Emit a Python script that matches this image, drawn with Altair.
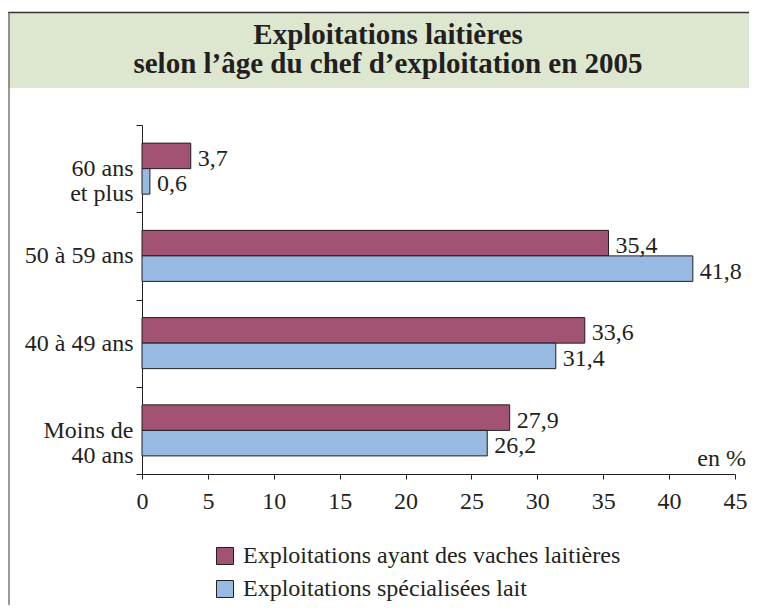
import altair as alt
import pandas as pd

# ---- data ----
categories = ["60 ans\net plus", "50 à 59 ans", "40 à 49 ans", "Moins de\n40 ans"]
series = ["Exploitations ayant des vaches laitières", "Exploitations spécialisées lait"]
vaches = [3.7, 35.4, 33.6, 27.9]
specialisees = [0.6, 41.8, 31.4, 26.2]
x_ticks = [0, 5, 10, 15, 20, 25, 30, 35, 40, 45]
colors = ["#A25374", "#98B9E2"]
title_lines = ["Exploitations laitières", "selon l\u2019âge du chef d\u2019exploitation en 2005"]
unit_label = "en %"

rows = []
for c, a, b in zip(categories, vaches, specialisees):
    rows.append({"age": c, "serie": series[0], "valeur": a})
    rows.append({"age": c, "serie": series[1], "valeur": b})
df = pd.DataFrame(rows)
one = pd.DataFrame({"k": [0]})

FONT = "'Liberation Serif', 'Times New Roman', Times, serif"
INK = "#231f20"

y_enc = alt.Y(
    "age:N",
    sort=categories,
    scale=alt.Scale(paddingInner=0, paddingOuter=0),
    axis=alt.Axis(
        title=None,
        tickBand="extent",
        labelExpr="datum.value ? split(datum.value, '\\n') : ''",
        tickSize=6,
        labelPadding=3,
        labelLineHeight=25,
        labelFont=FONT,
        labelFontSize=24,
        labelColor=INK,
        domainColor=INK,
        tickColor=INK,
        labelLimit=0,
    ),
)
yoff_enc = alt.YOffset(
    "serie:N", sort=series, scale=alt.Scale(paddingInner=0, paddingOuter=0.71)
)
x_enc = alt.X(
    "valeur:Q",
    scale=alt.Scale(domain=[0, 45], nice=False, zero=True),
    axis=alt.Axis(
        title=None,
        values=x_ticks,
        grid=False,
        tickSize=5,
        labelPadding=10,
        labelFont=FONT,
        labelFontSize=24,
        labelColor=INK,
        domainColor=INK,
        tickColor=INK,
        labelFlush=False,
    ),
)

base = alt.Chart(df).transform_calculate(
    label="replace(format(datum.valeur, '.1f'), '.', ',')"
)

bars = base.mark_bar(stroke=INK, strokeWidth=1).encode(
    y=y_enc,
    yOffset=yoff_enc,
    x=x_enc,
    color=alt.Color(
        "serie:N",
        sort=series,
        scale=alt.Scale(domain=series, range=colors),
        legend=alt.Legend(
            orient="none",
            legendX=71,
            legendY=419,
            title=None,
            symbolType="square",
            symbolSize=289,
            symbolStrokeColor=INK,
            symbolStrokeWidth=1,
            symbolOpacity=1,
            labelFont=FONT,
            labelFontSize=24,
            labelColor=INK,
            labelOffset=6,
            rowPadding=9,
            padding=0,
            labelLimit=0,
        ),
    ),
)

values_txt = base.mark_text(
    align="left", baseline="middle", dx=7, dy=3, font=FONT, fontSize=24, color=INK
).encode(y=y_enc, yOffset=yoff_enc, x=alt.X("valeur:Q"), text="label:N")

# ---- decorations ----
band = alt.Chart(one).mark_rect(color="#dde7cf").encode(
    x=alt.value(-134), x2=alt.value(620), y=alt.value(-112), y2=alt.value(-37)
)
top_line = alt.Chart(one).mark_rule(color="#333333", strokeWidth=1.5).encode(
    x=alt.value(-134), x2=alt.value(620), y=alt.value(-112.5)
)
left_line = alt.Chart(one).mark_rule(color="#777777", strokeWidth=1.5).encode(
    x=alt.value(-133), y=alt.value(-112.5), y2=alt.value(480)
)
t1 = alt.Chart(one).mark_text(
    text=title_lines[0], font=FONT, fontSize=29, fontWeight="bold", color=INK,
    align="center", baseline="alphabetic"
).encode(x=alt.value(246), y=alt.value(-81))
t2 = alt.Chart(one).mark_text(
    text=title_lines[1], font=FONT, fontSize=29, fontWeight="bold", color=INK,
    align="center", baseline="alphabetic"
).encode(x=alt.value(246), y=alt.value(-52))
unit = alt.Chart(one).mark_text(
    text=unit_label, font=FONT, fontSize=24, color=INK, align="right", baseline="alphabetic"
).encode(x=alt.value(604), y=alt.value(341))

chart = alt.layer(band, top_line, left_line, t1, t2, bars, values_txt, unit).properties(
    width=593,
    height=349,
    autosize=alt.AutoSizeParams(type="none"),
    padding={"left": 134, "top": 117, "right": 14, "bottom": 133},
    background="white",
).configure_view(stroke=None)

chart.save("out.html", embed_options={"renderer": "svg", "actions": False})
